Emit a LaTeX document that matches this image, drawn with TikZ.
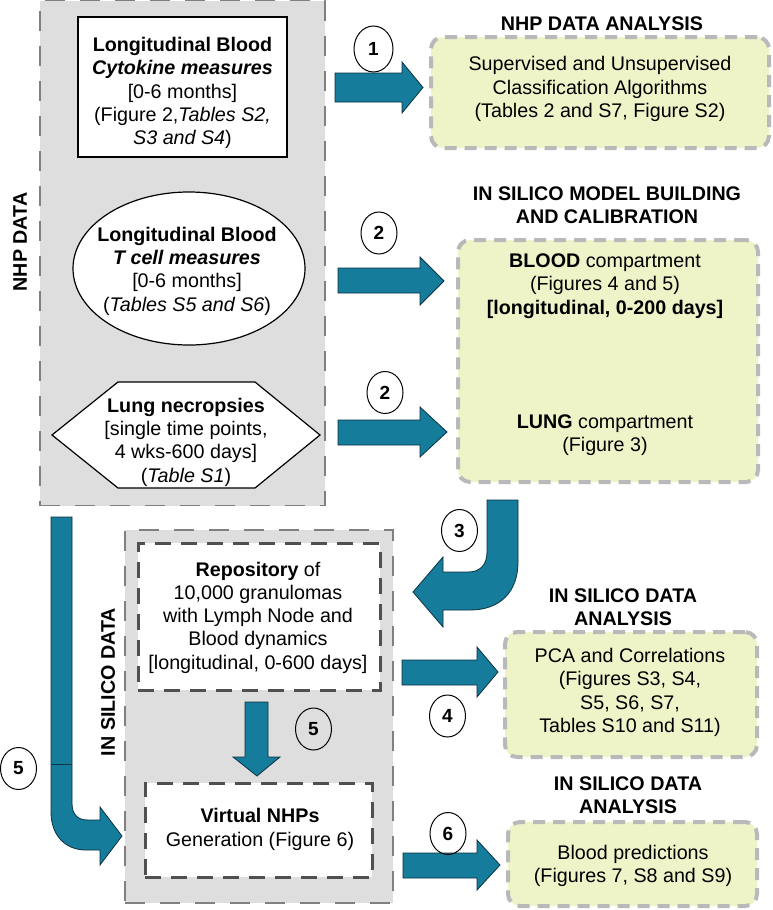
\documentclass[tikz,border=0pt]{standalone}
\usepackage{fontspec}
\setmainfont{Liberation Sans}
\usetikzlibrary{shapes.geometric}
\definecolor{boxgray}{RGB}{222,222,222}
\definecolor{dashgray}{RGB}{128,128,128}
\definecolor{yel}{RGB}{239,244,200}
\definecolor{ydash}{RGB}{185,185,185}
\definecolor{repdash}{RGB}{80,80,80}
\definecolor{arrowfill}{RGB}{22,124,156}
\definecolor{arrowedge}{RGB}{10,50,65}
\tikzset{
 txt/.style={align=center, font=\fontsize{19.7}{23.3}\selectfont, inner sep=0pt},
 ttl/.style={align=center, font=\fontsize{19.7}{23.3}\selectfont\bfseries, inner sep=0pt},
 graybox/.style={rectangle, fill=boxgray, draw=dashgray, line width=1.5pt, dash pattern=on 20pt off 15pt, inner sep=0pt},
 yellowbox/.style={rectangle, fill=yel, draw=ydash, line width=4pt, dash pattern=on 12pt off 8pt, rounded corners=12pt, inner sep=0pt},
 whitebox/.style={rectangle, fill=white, draw=repdash, line width=3pt, dash pattern=on 16pt off 10pt, inner sep=0pt},
 plainbox/.style={fill=white, draw=black, line width=1.2pt, inner sep=0pt},
 blockarrow/.style={fill=arrowfill, draw=arrowedge, line width=0.8pt, line join=miter},
 numcirc/.style={draw=black, line width=1pt, ellipse, minimum width=36pt, minimum height=42pt, inner sep=0pt, font=\fontsize{19}{19}\selectfont\bfseries},
}
\begin{document}
\begin{tikzpicture}[x=1pt,y=-1pt]
\useasboundingbox (0,0) rectangle (772,910);
\fill[white] (0,0) rectangle (772,910);

% ---------- NHP DATA gray panel ----------
\node[graybox, minimum width=285pt, minimum height=505pt] (nhp) at (182.5,253) {};
\node[ttl, rotate=90] (nhplbl) at (20,242) {NHP DATA};

\node[plainbox, rectangle, minimum width=209pt, minimum height=140pt] (cytbox) at (182.5,87) {};
\node[txt] (cyt) at (182.5,93) {\textbf{Longitudinal Blood}\\\textbf{\textit{Cytokine measures}}\\{[0-6 months]}\\(Figure 2,\textit{Tables S2,}\\\textit{S3 and S4})};

\node[plainbox, ellipse, minimum width=232pt, minimum height=153pt] (tcellbox) at (189,268.5) {};
\node[txt] (tcell) at (187,271) {\textbf{Longitudinal Blood}\\\textbf{\textit{T cell measures}}\\{[0-6 months]}\\(\textit{Tables S5 and S6})};

\coordinate (h1) at (52,435);
\coordinate (h2) at (118,382);
\coordinate (h3) at (255,382);
\coordinate (h4) at (320,435);
\coordinate (h5) at (255,488);
\coordinate (h6) at (118,488);
\draw[fill=white, draw=black, line width=1.2pt] (h1) -- (h2) -- (h3) -- (h4) -- (h5) -- (h6) -- cycle;
\node[txt] (lung) at (186,442) {\textbf{Lung necropsies}\\{[single time points,}\\4 wks-600 days]\\(\textit{Table S1})};

% ---------- right column ----------
\node[ttl] (t1) at (602,24) {NHP DATA ANALYSIS};
\node[yellowbox, minimum width=338pt, minimum height=111pt] (boxA) at (600,92.5) {};
\node[txt] (boxAt) at (600,89) {Supervised and Unsupervised\\Classification Algorithms\\(Tables 2 and S7, Figure S2)};

\node[ttl] (t2) at (607,205) {IN SILICO MODEL BUILDING\\AND CALIBRATION};
\node[yellowbox, minimum width=300pt, minimum height=242pt] (boxB) at (608,361) {};
\node[txt] (blood) at (605,286) {\textbf{BLOOD} compartment\\(Figures 4 and 5)\\\textbf{[longitudinal, 0-200 days]}};
\node[txt] (lungc) at (605,435.5) {\textbf{LUNG} compartment\\(Figure 3)};

\node[ttl] (t3) at (623,607) {IN SILICO DATA\\ANALYSIS};
\node[yellowbox, minimum width=252pt, minimum height=125pt] (boxC) at (631,694.5) {};
\node[txt] (boxCt) at (630,692.5) {PCA and Correlations\\(Figures S3, S4,\\S5, S6, S7,\\Tables S10 and S11)};

\node[ttl] (t4) at (628,795.5) {IN SILICO DATA\\ANALYSIS};
\node[yellowbox, minimum width=249pt, minimum height=84pt] (boxD) at (632.5,864) {};
\node[txt] (boxDt) at (633,866) {Blood predictions\\(Figures 7, S8 and S9)};

% ---------- IN SILICO DATA panel ----------
\node[graybox, minimum width=268pt, minimum height=373pt] (silico) at (259,716.5) {};
\node[ttl, rotate=90] (silicolbl) at (108,682) {IN SILICO DATA};
\node[whitebox, minimum width=242pt, minimum height=147pt] (repo) at (259,616.5) {};
\node[txt] (repot) at (258,617.5) {\textbf{Repository} of\\10,000 granulomas\\with Lymph Node and\\Blood dynamics\\{[longitudinal, 0-600 days]}};
\node[whitebox, minimum width=227pt, minimum height=94pt] (virt) at (258.5,830) {};
\node[txt] (virtt) at (260,829.5) {\textbf{Virtual NHPs}\\Generation (Figure 6)};

% ---------- block arrows ----------
% 1
\draw[blockarrow] (335,73) -- (402,73) -- (402,62) -- (423,87.5) -- (402,113) -- (402,102) -- (335,102) -- cycle;
% 2 upper
\draw[blockarrow] (338,268) -- (420,268) -- (420,257) -- (444,281) -- (420,305) -- (420,293) -- (338,293) -- cycle;
% 2 lower
\draw[blockarrow] (338,420) -- (420,420) -- (420,407) -- (447,432) -- (420,457) -- (420,445) -- (338,445) -- cycle;
% 3 curved
\draw[blockarrow] (487,500) -- (518,500) -- (518,562) .. controls (518,592) and (500,610) .. (470,610) -- (443,610) -- (443,627) -- (413,592) -- (443,557) -- (443,572) -- (468,572) .. controls (480,572) and (487,565) .. (487,552) -- cycle;
% 4
\draw[blockarrow] (402,660) -- (477,660) -- (477,647) -- (498,672) -- (477,697) -- (477,685) -- (402,685) -- cycle;
% 5 inner
\draw[blockarrow] (245,702) -- (268,702) -- (268,757) -- (280,757) -- (257,776) -- (233,757) -- (245,757) -- cycle;
% 5 outer
\draw[blockarrow] (51,517) -- (72,517) -- (72,803) .. controls (72,814) and (77,820) .. (88,820) -- (100,820) -- (100,807) -- (122,836) -- (100,865) -- (100,850) -- (86,850) .. controls (65,850) and (51,835) .. (51,812) -- cycle;
\draw[draw=arrowedge, line width=0.8pt] (51,764) -- (72,764);
% 6
\draw[blockarrow] (403,853) -- (477,853) -- (477,840) -- (500,865) -- (477,890) -- (477,878) -- (403,878) -- cycle;

% ---------- number circles ----------
\node[numcirc, minimum width=39pt, minimum height=46pt] (c1) at (373.5,49) {1};
\node[numcirc] (c2a) at (379,233) {2};
\node[numcirc] (c2b) at (385,392.5) {2};
\node[numcirc] (c3) at (459.5,530.5) {3};
\node[numcirc] (c4) at (447.5,716) {4};
\node[numcirc] (c5a) at (313.5,729) {5};
\node[numcirc] (c5b) at (18.5,768.5) {5};
\node[numcirc] (c6) at (448,833.5) {6};
\end{tikzpicture}
\end{document}
